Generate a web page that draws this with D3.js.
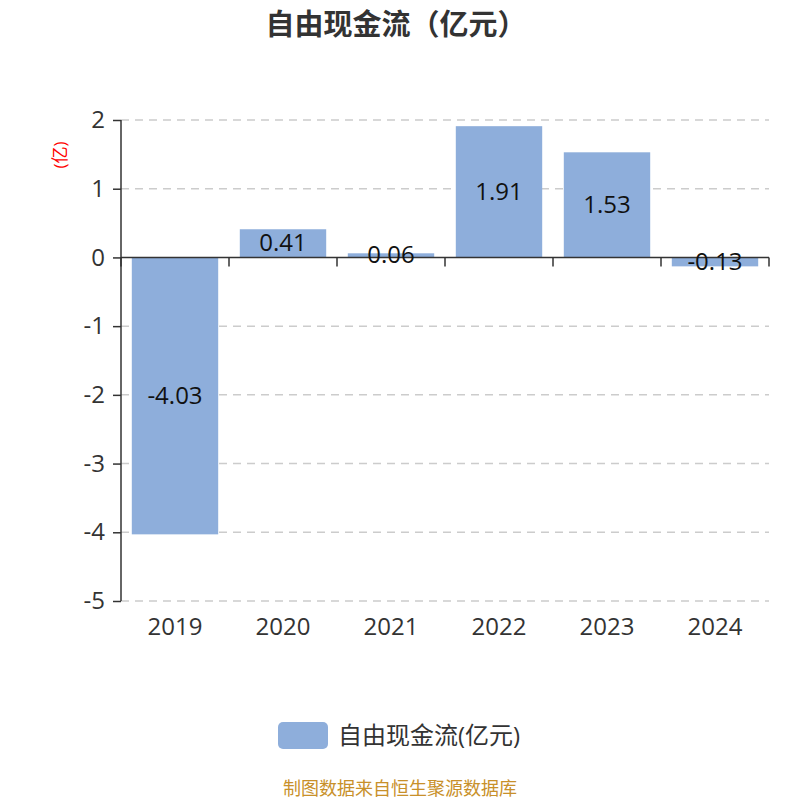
<!DOCTYPE html>
<html>
<head>
<meta charset="utf-8">
<script src="https://cdn.jsdelivr.net/npm/d3@7"></script>
<style>
    body { margin: 0; background: #fff; }
    text { font-family: "Open Sans", "Noto Sans CJK SC", sans-serif; }
</style>
</head>
<body>
<div id="chart"></div>
<script>
const years = ["2019", "2020", "2021", "2022", "2023", "2024"];
const values = [-4.03, 0.41, 0.06, 1.91, 1.53, -0.13];
const yTicks = [2, 1, 0, -1, -2, -3, -4, -5];

const width = 800, height = 800;
const barColor = "#8eaedb";

let svg = d3.select("#chart").append("svg")
    .attr("width", width)
    .attr("height", height);

let x = d3.scaleBand().domain(years).range([121, 769]).paddingInner(0.2).paddingOuter(0.1);
let band = d3.scaleBand().domain(years).range([121, 769]);
let y = d3.scaleLinear().domain([-5, 2]).range([601, 120]);

// grid lines
svg.append("g").selectAll("line")
    .data(yTicks.filter(d => d !== 0))
    .enter().append("line")
    .attr("x1", 121).attr("x2", 769)
    .attr("y1", d => y(d)).attr("y2", d => y(d))
    .attr("stroke", "#ccc")
    .attr("stroke-width", 1.5)
    .attr("stroke-dasharray", "8,6");

// bars
svg.append("g").selectAll("rect")
    .data(values)
    .enter().append("rect")
    .attr("x", (d, i) => x(years[i]))
    .attr("width", x.bandwidth())
    .attr("y", d => y(Math.max(0, d)))
    .attr("height", d => Math.abs(y(d) - y(0)))
    .attr("fill", barColor);

// y axis
let yAxis = svg.append("g")
    .attr("transform", "translate(121,0)")
    .call(d3.axisLeft(y).tickValues(yTicks).tickSize(8).tickPadding(8).tickFormat(d3.format("d")));
yAxis.select(".domain").attr("stroke", "#333").attr("stroke-width", 1.5).attr("d", "M0," + y(2) + "V" + y(-5));
yAxis.selectAll(".tick line").attr("stroke", "#333").attr("stroke-width", 1.5);
yAxis.selectAll(".tick text").attr("fill", "#333")
    .style("font-family", "'Open Sans', sans-serif")
    .style("font-size", "24px")
    .text(d => d < 0 ? "-" + Math.abs(d) : d);

// x axis at zero
let xAxis = svg.append("g")
    .attr("transform", "translate(0," + y(0) + ")");
xAxis.append("line")
    .attr("x1", 121).attr("x2", 769)
    .attr("stroke", "#333").attr("stroke-width", 1.5);
xAxis.selectAll(".xtick")
    .data(years.concat(["end"]))
    .enter().append("line")
    .attr("x1", (d, i) => 121 + band.step() * i)
    .attr("x2", (d, i) => 121 + band.step() * i)
    .attr("y1", 0).attr("y2", 9)
    .attr("stroke", "#333").attr("stroke-width", 1.5);

// category labels
svg.append("g").selectAll("text")
    .data(years)
    .enter().append("text")
    .attr("x", d => band(d) + band.bandwidth() / 2)
    .attr("y", 635)
    .attr("text-anchor", "middle")
    .attr("fill", "#333")
    .style("font-size", "24px")
    .text(d => d);

// value labels
svg.append("g").selectAll("text")
    .data(values)
    .enter().append("text")
    .attr("x", (d, i) => x(years[i]) + x.bandwidth() / 2)
    .attr("y", d => (y(d) + y(0)) / 2 + 8)
    .attr("text-anchor", "middle")
    .attr("fill", "#111")
    .style("font-size", "24px")
    .text(d => d.toFixed(2));

// y unit
svg.append("text")
    .attr("transform", "translate(66,155) rotate(-90)")
    .attr("text-anchor", "middle")
    .attr("fill", "red")
    .style("font-size", "17px")
    .text("(亿)");

// title
svg.append("text")
    .attr("x", 396).attr("y", 35)
    .attr("text-anchor", "middle")
    .attr("fill", "#333")
    .style("font-family", "'Noto Sans CJK SC', sans-serif")
    .style("font-size", "29px")
    .style("font-weight", "bold")
    .text("自由现金流（亿元）");

// legend
svg.append("rect")
    .attr("x", 278).attr("y", 722)
    .attr("width", 50).attr("height", 27)
    .attr("rx", 5)
    .attr("fill", barColor);
svg.append("text")
    .attr("x", 338).attr("y", 744)
    .attr("fill", "#333")
    .style("font-size", "24px")
    .text("自由现金流(亿元)");

// source
svg.append("text")
    .attr("x", 400).attr("y", 795)
    .attr("text-anchor", "middle")
    .attr("fill", "#c8902a")
    .style("font-size", "18px")
    .text("制图数据来自恒生聚源数据库");
</script>
</body>
</html>
